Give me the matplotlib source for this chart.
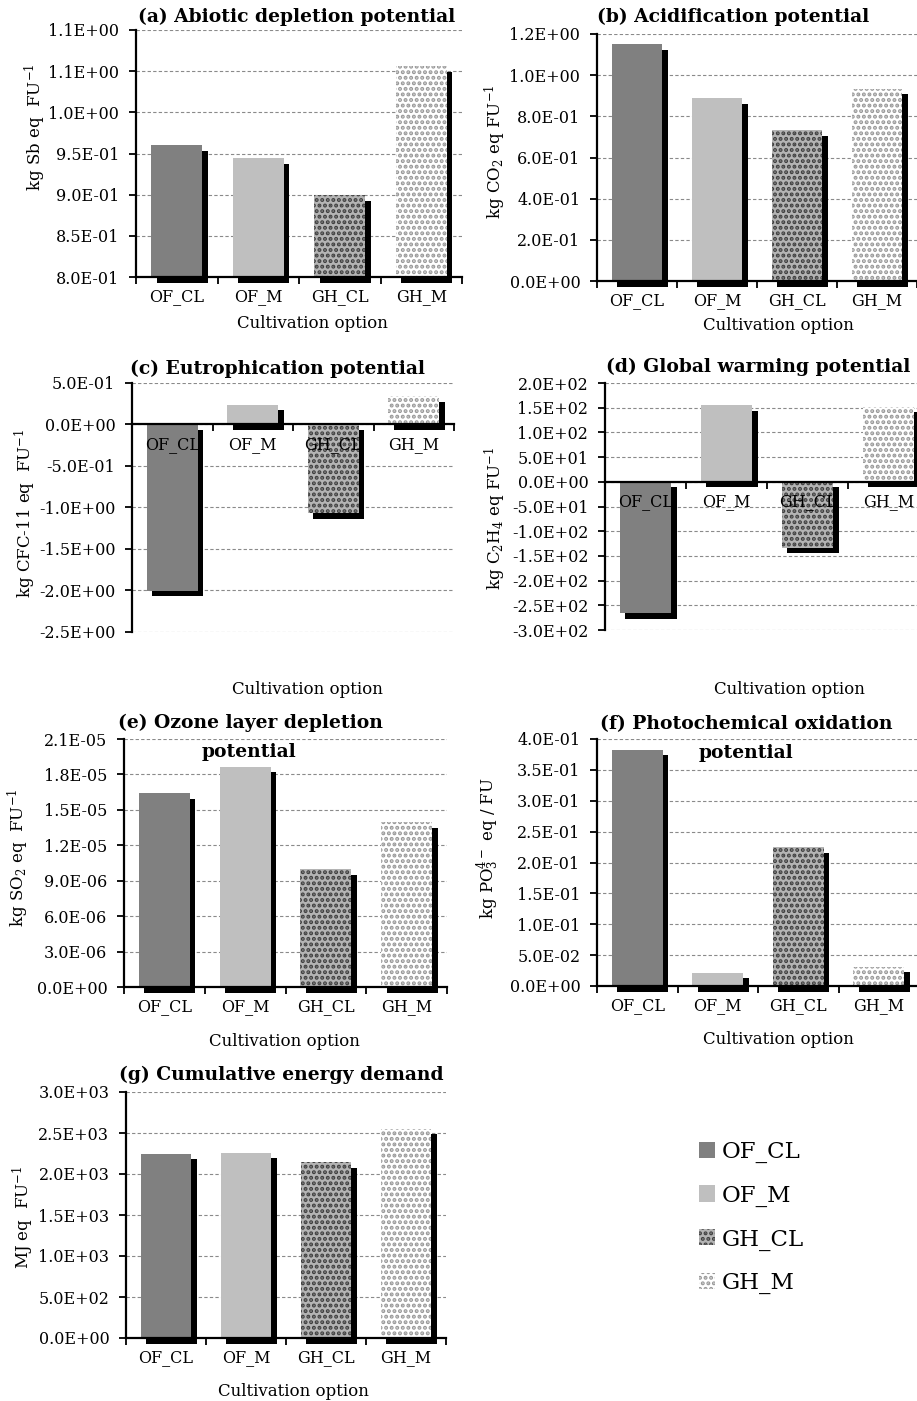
import numpy as np
import matplotlib
matplotlib.use('Agg')
import matplotlib.pyplot as plt
from matplotlib.transforms import ScaledTranslation
from matplotlib.ticker import FuncFormatter

plt.rcParams['font.family'] = ['DejaVu Serif']
plt.rcParams['mathtext.fontset'] = 'custom'
plt.rcParams['mathtext.rm'] = 'DejaVu Serif'
plt.rcParams['mathtext.it'] = 'DejaVu Serif:italic'
plt.rcParams['mathtext.bf'] = 'DejaVu Serif:bold'
plt.rcParams['hatch.linewidth'] = 2.0

options = ['OF_CL', 'OF_M', 'GH_CL', 'GH_M']

# impact results per cultivation option
adp = [0.960, 0.944, 0.899, 1.056]
ap = [1.151, 0.889, 0.733, 0.935]
ep = [-2.005, 0.238, -1.07, 0.338]
gwp = [-265.6, 155.4, -133.0, 152.0]
odp = [1.642e-5, 1.863e-5, 0.997e-5, 1.396e-5]
pop = [0.3823, 0.0218, 0.2248, 0.0309]
ced = [2244, 2260, 2146, 2549]

faces = ['#808080', '#bfbfbf', '#b4b4b4', 'white']
dots = ['#808080', '#bfbfbf', '#404040', '#999999']
hatches = [None, None, '...', '...']

W, H = 917, 1401
fig = plt.figure(figsize=(W / 100, H / 100), dpi=100)

TICK = 11.5
LAB = 12
TITLE = 13.5


def put(x, y, s, **kw):
    fig.text(x / W, 1 - y / H, s, ha='center', va='center', **kw)


def panel(box, vals, lo, hi, nt, zero_axis=False):
    l, r, t, b = box
    ax = fig.add_axes([l / W, 1 - b / H, (r - l) / W, (b - t) / H])
    ax.set_axisbelow(False)
    x = np.arange(len(options))
    base = lo if lo > 0 else 0
    h = [v - base for v in vals]
    shadow = ax.transData + ScaledTranslation(0.055, -0.055, fig.dpi_scale_trans)
    ax.bar(x, h, 0.63, bottom=base, color='black', lw=0, transform=shadow,
           clip_on=False, zorder=1.9)
    bars = ax.bar(x, h, 0.63, bottom=base, color=faces, edgecolor=dots, lw=0,
                  zorder=2, clip_on=False)
    for bar, ht in zip(bars, hatches):
        if ht:
            bar.set_hatch(ht)
    ax.set_xlim(-0.5, 3.5)
    ax.set_ylim(lo, hi)
    yt = np.linspace(lo, hi, nt)
    ax.set_yticks(yt)
    ax.yaxis.set_major_formatter(FuncFormatter(lambda v, p: f"{v:.1E}"))
    for v in yt:
        ax.axhline(v, color='#8a8a8a', lw=0.8, ls=(0, (3, 2)), zorder=0.5)
    ax.set_xticks(x)
    ax.set_xticklabels(options)
    ax.set_xticks(np.arange(-0.5, 4, 1), minor=True)
    ax.tick_params(axis='x', which='major', length=0, pad=8, labelsize=TICK)
    ax.tick_params(axis='x', which='minor', length=5, width=1.3)
    ax.tick_params(axis='y', length=5, width=1.3, pad=7, labelsize=TICK)
    for s in ['top', 'right']:
        ax.spines[s].set_visible(False)
    for s in ['left', 'bottom']:
        ax.spines[s].set_linewidth(1.6)
    if zero_axis:
        ax.spines['bottom'].set_position(('data', 0))
    return ax, bars


# (a)
panel((136, 462, 30, 277), adp, 0.8, 1.1, 7)
put(297, 17, '(a) Abiotic depletion potential', fontsize=TITLE, fontweight='bold')
put(312, 323, 'Cultivation option', fontsize=LAB)
put(35, 127, 'kg Sb eq  FU$^{-1}$', fontsize=LAB, rotation=90)

# (b)
panel((597, 917, 34, 281), ap, 0.0, 1.2, 7)
put(733, 17, '(b) Acidification potential', fontsize=TITLE, fontweight='bold')
put(778, 326, 'Cultivation option', fontsize=LAB)
put(495, 152, 'kg CO$_2$ eq FU$^{-1}$', fontsize=LAB, rotation=90)

# (c)
panel((132, 454, 383, 632), ep, -2.5, 0.5, 7, zero_axis=True)
put(278, 369, '(c) Eutrophication potential', fontsize=TITLE, fontweight='bold')
put(307, 689, 'Cultivation option', fontsize=LAB)
put(25, 513, 'kg CFC-11 eq  FU$^{-1}$', fontsize=LAB, rotation=90)

# (d)
panel((605, 929, 383, 630), gwp, -300, 200, 11, zero_axis=True)
put(758, 367, '(d) Global warming potential', fontsize=TITLE, fontweight='bold')
put(789, 689, 'Cultivation option', fontsize=LAB)
put(495, 518, 'kg C$_2$H$_4$ eq FU$^{-1}$', fontsize=LAB, rotation=90)

# (e)
panel((124, 447, 739, 987), odp, 0.0, 2.1e-5, 8)
put(250, 723, '(e) Ozone layer depletion', fontsize=TITLE, fontweight='bold')
put(249, 752, 'potential', fontsize=TITLE, fontweight='bold')
put(284, 1042, 'Cultivation option', fontsize=LAB)
put(18, 858, 'kg SO$_2$ eq  FU$^{-1}$', fontsize=LAB, rotation=90)

# (f)
panel((597, 919, 739, 986), pop, 0.0, 0.4, 9)
put(746, 724, '(f) Photochemical oxidation', fontsize=TITLE, fontweight='bold')
put(746, 753, 'potential', fontsize=TITLE, fontweight='bold')
put(778, 1040, 'Cultivation option', fontsize=LAB)
put(488, 848, 'kg PO$_3^{4-}$ eq / FU', fontsize=LAB, rotation=90)

# (g)
ax, bars = panel((126, 446, 1092, 1338), ced, 0.0, 3000, 7)
put(281, 1075, '(g) Cumulative energy demand', fontsize=TITLE, fontweight='bold')
put(293, 1392, 'Cultivation option', fontsize=LAB)
put(23, 1217, 'MJ eq  FU$^{-1}$', fontsize=LAB, rotation=90)

fig.legend(bars, options, loc='upper left', bbox_to_anchor=(678 / W, 1 - 1120 / H),
           frameon=False, fontsize=16.5, handlelength=0.7, handleheight=0.7,
           handletextpad=0.3, labelspacing=0.95)

fig.savefig('out.png', dpi=100)
